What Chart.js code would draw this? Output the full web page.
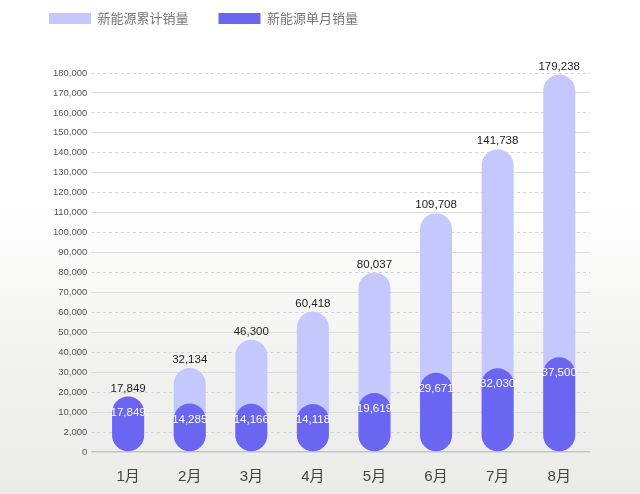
<!DOCTYPE html>
<html>
<head>
<meta charset="utf-8">
<script src="https://cdn.jsdelivr.net/npm/chart.js@4/dist/chart.umd.min.js"></script>
<style>
  html, body { margin: 0; padding: 0; }
  body { width: 640px; height: 494px; overflow: hidden;
    background: linear-gradient(to bottom, #ffffff 0%, #ffffff 40%, #f1f2f0 75%, #ebece9 100%); }
  #wrap { position: relative; width: 640px; height: 494px; }
</style>
</head>
<body>
<div id="wrap"><canvas id="c"></canvas></div>
<script>
const categories = ['1月', '2月', '3月', '4月', '5月', '6月', '7月', '8月'];
const cumulativeSales = [17849, 32134, 46300, 60418, 80037, 109708, 141738, 179238];
const monthlySales = [17849, 14285, 14166, 14118, 19619, 29671, 32030, 37500];
const yTickValues = [0, 2000, 10000, 20000, 30000, 40000, 50000, 60000, 70000, 80000, 90000,
  100000, 110000, 120000, 130000, 140000, 150000, 160000, 170000, 180000];
const seriesNames = ['新能源累计销量', '新能源单月销量'];

const fmt = v => Number(v).toLocaleString('en-US');

// Axis whose ticks are evenly spaced, with a linear mapping between consecutive tick values
class PiecewiseScale extends Chart.LinearScale {
  determineDataLimits() { this.min = 0; this.max = yTickValues.length - 1; }
  buildTicks() { return yTickValues.map(v => ({ value: v })); }
  toIndex(v) {
    const t = yTickValues, n = t.length;
    if (v <= t[0]) return (v - t[0]) / (t[1] - t[0]);
    for (let i = 0; i < n - 1; i++) {
      if (v <= t[i + 1]) return i + (v - t[i]) / (t[i + 1] - t[i]);
    }
    return (n - 1) + (v - t[n - 1]) / (t[n - 1] - t[n - 2]);
  }
  fromIndex(idx) {
    const t = yTickValues, n = t.length;
    const i = Math.max(0, Math.min(n - 2, Math.floor(idx)));
    return t[i] + (idx - i) * (t[i + 1] - t[i]);
  }
  getPixelForValue(v) {
    if (v === null || v === undefined || isNaN(v)) return NaN;
    return this.getPixelForDecimal(this.toIndex(v) / (this.max - this.min));
  }
  getValueForPixel(p) {
    return this.fromIndex(this.getDecimalForPixel(p) * (this.max - this.min));
  }
}
PiecewiseScale.id = 'piecewise';
PiecewiseScale.defaults = Chart.LinearScale.defaults;
Chart.register(PiecewiseScale);

const NUM_FONT = "'Liberation Sans', Arial, sans-serif";
const CJK_FONT = "'Liberation Sans', 'Noto Sans CJK SC', sans-serif";

const valueLabels = {
  id: 'valueLabels',
  afterDatasetsDraw(chart) {
    const ctx = chart.ctx;
    ctx.save();
    ctx.textAlign = 'center';
    ctx.textBaseline = 'middle';
    ctx.font = "11.5px " + NUM_FONT;
    const m0 = chart.getDatasetMeta(0);
    m0.data.forEach((el, i) => {
      ctx.fillStyle = '#1c1c1c';
      ctx.fillText(fmt(cumulativeSales[i]), el.x, el.y - 8);
    });
    const m1 = chart.getDatasetMeta(1);
    m1.data.forEach((el, i) => {
      ctx.fillStyle = '#ffffff';
      ctx.fillText(fmt(monthlySales[i]), el.x, el.y + 16);
    });
    ctx.restore();
  }
};

const legendShift = {
  id: 'legendShift',
  afterLayout(chart) {
    chart.legend.left = 19;
    chart.legend.top = chart.legend.top - 38;
  }
};

new Chart(document.getElementById('c'), {
  type: 'bar',
  data: {
    labels: categories,
    datasets: [
      {
        label: seriesNames[0],
        data: cumulativeSales,
        backgroundColor: '#c5c8fd',
        borderRadius: 20,
        borderSkipped: false,
        order: 1
      },
      {
        label: seriesNames[1],
        data: monthlySales,
        backgroundColor: '#6a66f1',
        borderRadius: 20,
        borderSkipped: false,
        order: 0
      }
    ]
  },
  options: {
    responsive: true,
    maintainAspectRatio: false,
    animation: false,
    devicePixelRatio: 1,
    layout: { padding: { left: 49, right: 50, top: 20, bottom: -8 } },
    datasets: { bar: { categoryPercentage: 1, barPercentage: 0.52 } },
    plugins: {
      tooltip: { enabled: false },
      legend: {
        display: true,
        position: 'top',
        align: 'start',
        labels: {
          boxWidth: 42,
          boxHeight: 11,
          padding: 30,
          color: '#777777',
          font: { size: 13, family: "'Noto Sans CJK SC', sans-serif" },
          sort: (a, b) => a.datasetIndex - b.datasetIndex
        }
      }
    },
    scales: {
      x: {
        stacked: true,
        grid: { display: false, drawTicks: false },
        border: { display: false },
        ticks: {
          padding: 16,
          color: '#444444',
          font: { size: 15, family: CJK_FONT }
        }
      },
      y: {
        type: 'piecewise',
        stacked: false,
        grid: {
          drawTicks: true,
          tickLength: 6,
          color: ctx => ctx.index === 0 ? '#c4c4c4' : (ctx.index % 2 === 0 ? '#dcdcdc' : '#d2d2d2'),
          lineWidth: ctx => ctx.index === 0 ? 1.5 : 1,
          tickBorderDash: ctx => ctx.index % 2 === 1 ? [3, 3] : []
        },
        border: {
          display: false,
          dash: ctx => ctx.index % 2 === 1 ? [3, 3] : []
        },
        ticks: {
          autoSkip: false,
          padding: 4,
          color: '#555555',
          font: { size: 9.5, family: NUM_FONT },
          callback: v => fmt(v)
        }
      }
    }
  },
  plugins: [valueLabels, legendShift]
});
</script>
</body>
</html>
